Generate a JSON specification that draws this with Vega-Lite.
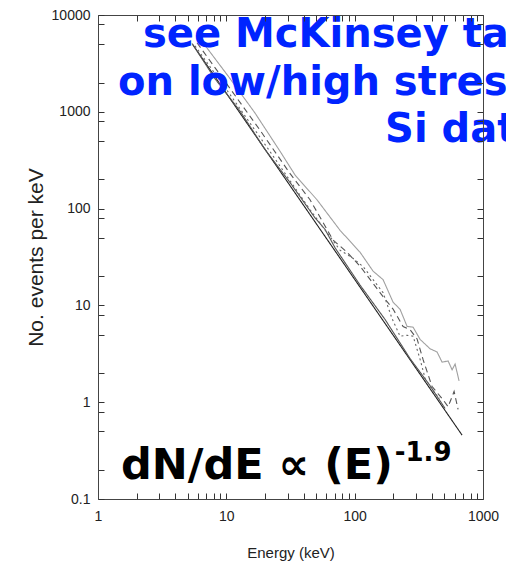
{
  "$schema": "https://vega.github.io/schema/vega-lite/v6.json",
  "width": 385,
  "height": 484,
  "autosize": {"type": "none"},
  "padding": {"left": 98, "top": 15, "right": 23, "bottom": 70},
  "background": "white",
  "config": {"view": {"stroke": null}},
  "datasets": {
    "spectra": [
      {"s": "fit", "E": 5.50, "N": 4907},
      {"s": "fit", "E": 687, "N": 0.457},
      {"s": "d1", "E": 5.40, "N": 5084},
      {"s": "d1", "E": 8.17, "N": 2189},
      {"s": "d1", "E": 12.79, "N": 1017},
      {"s": "d1", "E": 20.0, "N": 408.7},
      {"s": "d1", "E": 31.4, "N": 185.4},
      {"s": "d1", "E": 49.1, "N": 80.2},
      {"s": "d1", "E": 58.8, "N": 60.9},
      {"s": "d1", "E": 70.4, "N": 39.3},
      {"s": "d1", "E": 110.2, "N": 16.2},
      {"s": "d1", "E": 172.6, "N": 7.15},
      {"s": "d1", "E": 270.3, "N": 2.82},
      {"s": "d1", "E": 387, "N": 1.48},
      {"s": "d1", "E": 506.5, "N": 0.861},
      {"s": "d2", "E": 5.91, "N": 5169},
      {"s": "d2", "E": 10.7, "N": 1735},
      {"s": "d2", "E": 18.3, "N": 646},
      {"s": "d2", "E": 31.4, "N": 229.5},
      {"s": "d2", "E": 44.9, "N": 123.5},
      {"s": "d2", "E": 67.9, "N": 47.3},
      {"s": "d2", "E": 87.3, "N": 35.4},
      {"s": "d2", "E": 110.2, "N": 25.4},
      {"s": "d2", "E": 166.5, "N": 12.3},
      {"s": "d2", "E": 199.2, "N": 9.16},
      {"s": "d2", "E": 238.4, "N": 6.04},
      {"s": "d2", "E": 270.3, "N": 5.60},
      {"s": "d2", "E": 306.4, "N": 4.50},
      {"s": "d2", "E": 341.4, "N": 2.75},
      {"s": "d2", "E": 401.2, "N": 1.45},
      {"s": "d2", "E": 488.7, "N": 1.06},
      {"s": "d2", "E": 534.6, "N": 0.897},
      {"s": "d2", "E": 595.3, "N": 1.29},
      {"s": "d2", "E": 639.5, "N": 0.843},
      {"s": "d3", "E": 5.70, "N": 4801},
      {"s": "d3", "E": 10.7, "N": 1504},
      {"s": "d3", "E": 21.9, "N": 387.9},
      {"s": "d3", "E": 44.9, "N": 97.4},
      {"s": "d3", "E": 76.9, "N": 37.2},
      {"s": "d3", "E": 95.4, "N": 31.2},
      {"s": "d3", "E": 116.3, "N": 25.2},
      {"s": "d3", "E": 166.5, "N": 13.55},
      {"s": "d3", "E": 195.6, "N": 7.31},
      {"s": "d3", "E": 225.9, "N": 4.80},
      {"s": "d3", "E": 256.1, "N": 4.91},
      {"s": "d3", "E": 285.3, "N": 4.81},
      {"s": "d3", "E": 323.3, "N": 2.78},
      {"s": "d3", "E": 353.9, "N": 1.76},
      {"s": "d3", "E": 423.3, "N": 1.22},
      {"s": "d3", "E": 463.1, "N": 1.10},
      {"s": "d4", "E": 6.82, "N": 4860},
      {"s": "d4", "E": 10.7, "N": 2199},
      {"s": "d4", "E": 16.7, "N": 974},
      {"s": "d4", "E": 26.2, "N": 391.5},
      {"s": "d4", "E": 34.3, "N": 222.6},
      {"s": "d4", "E": 50.9, "N": 123.2},
      {"s": "d4", "E": 76.9, "N": 59.7},
      {"s": "d4", "E": 110.2, "N": 35.4},
      {"s": "d4", "E": 139.1, "N": 22.6},
      {"s": "d4", "E": 166.5, "N": 18.45},
      {"s": "d4", "E": 199.2, "N": 10.8},
      {"s": "d4", "E": 225.9, "N": 9.11},
      {"s": "d4", "E": 256.1, "N": 6.07},
      {"s": "d4", "E": 285.3, "N": 5.96},
      {"s": "d4", "E": 323.3, "N": 4.46},
      {"s": "d4", "E": 387, "N": 3.56},
      {"s": "d4", "E": 438.7, "N": 3.30},
      {"s": "d4", "E": 480, "N": 2.59},
      {"s": "d4", "E": 534.6, "N": 2.67},
      {"s": "d4", "E": 574.4, "N": 2.16},
      {"s": "d4", "E": 606.1, "N": 2.48},
      {"s": "d4", "E": 651, "N": 1.66}
    ]
  },
  "layer": [
    {
      "data": {"name": "spectra"},
      "mark": {"type": "line", "strokeWidth": 1.1, "clip": true},
      "encoding": {
        "x": {
          "field": "E", "type": "quantitative",
          "scale": {"type": "log", "domain": [1, 1000], "nice": false},
          "axis": {
            "orient": "bottom", "zindex": 1,
            "values": [1,2,3,4,5,6,7,8,9,10,20,30,40,50,60,70,80,90,100,200,300,400,500,600,700,800,900,1000],
            "labelExpr": "(datum.value==1||datum.value==10||datum.value==100||datum.value==1000) ? ('' + datum.value) : ''",
            "ticks": true, "tickSize": -6, "tickWidth": 1,
            "tickColor": "#333", "domainColor": "#444", "grid": false,
            "labelFont": "Liberation Sans", "labelFontSize": 14, "labelColor": "#222",
            "labelPadding": 16, "labelOverlap": false, "labelFlush": false,
            "title": "Energy (keV)", "titleFont": "Liberation Sans", "titleFontSize": 15,
            "titleFontWeight": "normal", "titleColor": "#222", "titlePadding": 22
          }
        },
        "y": {
          "field": "N", "type": "quantitative",
          "scale": {"type": "log", "domain": [0.1, 10000], "nice": false},
          "axis": {
            "orient": "left", "zindex": 1,
            "values": [0.1,0.2,0.5,0.8,1,2,5,8,10,20,50,80,100,200,500,800,1000,2000,5000,8000,10000],
            "labelExpr": "(datum.value==0.1||datum.value==1||datum.value==10||datum.value==100||datum.value==1000||datum.value==10000) ? ('' + datum.value) : ''",
            "ticks": true, "tickSize": -6, "tickWidth": 1,
            "tickColor": "#333", "domainColor": "#444", "grid": false,
            "labelFont": "Liberation Sans", "labelFontSize": 14, "labelColor": "#222",
            "labelPadding": 14, "labelOverlap": false, "labelFlush": false,
            "title": "No. events per keV", "titleFont": "Liberation Sans", "titleFontSize": 21,
            "titleFontWeight": "normal", "titleColor": "#222", "titlePadding": 5
          }
        },
        "color": {
          "field": "s", "type": "nominal", "legend": null,
          "scale": {"domain": ["fit","d1","d2","d3","d4"], "range": ["#222222","#555555","#555555","#666666","#a0a0a0"]}
        },
        "strokeDash": {
          "field": "s", "type": "nominal", "legend": null,
          "scale": {"domain": ["fit","d1","d2","d3","d4"], "range": [[1,0],[1,0],[6,4],[2,3],[1,0]]}
        }
      }
    },
    {
      "data": {"name": "spectra"},
      "mark": {"type": "point", "opacity": 0},
      "encoding": {
        "x": {
          "field": "E", "type": "quantitative",
          "scale": {"type": "log", "domain": [1, 1000], "nice": false},
          "axis": {
            "orient": "top", "labels": false, "title": null, "zindex": 1,
            "values": [1,2,3,4,5,6,7,8,9,10,20,30,40,50,60,70,80,90,100,200,300,400,500,600,700,800,900,1000],
            "ticks": true, "tickSize": -6, "tickWidth": 1,
            "tickColor": "#333", "domainColor": "#444", "grid": false
          }
        },
        "y": {
          "field": "N", "type": "quantitative",
          "scale": {"type": "log", "domain": [0.1, 10000], "nice": false},
          "axis": {
            "orient": "right", "labels": false, "title": null, "zindex": 1,
            "values": [0.1,0.2,0.5,0.8,1,2,5,8,10,20,50,80,100,200,500,800,1000,2000,5000,8000,10000],
            "ticks": true, "tickSize": -6, "tickWidth": 1,
            "tickColor": "#333", "domainColor": "#444", "grid": false
          }
        }
      }
    },
    {
      "data": {"values": [{}]},
      "mark": {"type": "text", "font": "DejaVu Sans", "fontWeight": "bold", "fontSize": 40, "color": "#0024ff", "align": "left", "baseline": "alphabetic", "clip": false},
      "encoding": {
        "x": {"datum": 2.243, "type": "quantitative", "scale": {"type": "log", "domain": [1, 1000], "nice": false}, "axis": null},
        "y": {"datum": 4678, "type": "quantitative", "scale": {"type": "log", "domain": [0.1, 10000], "nice": false}, "axis": null},
        "text": {"value": "see McKinsey talk"}
      }
    },
    {
      "data": {"values": [{}]},
      "mark": {"type": "text", "font": "DejaVu Sans", "fontWeight": "bold", "fontSize": 40, "color": "#0024ff", "align": "left", "baseline": "alphabetic", "clip": false},
      "encoding": {
        "x": {"datum": 1.432, "type": "quantitative", "scale": {"type": "log", "domain": [1, 1000], "nice": false}, "axis": null},
        "y": {"datum": 1497, "type": "quantitative", "scale": {"type": "log", "domain": [0.1, 10000], "nice": false}, "axis": null},
        "text": {"value": "on low/high stress"}
      }
    },
    {
      "data": {"values": [{}]},
      "mark": {"type": "text", "font": "DejaVu Sans", "fontWeight": "bold", "fontSize": 40, "color": "#0024ff", "align": "left", "baseline": "alphabetic", "clip": false},
      "encoding": {
        "x": {"datum": 172.6, "type": "quantitative", "scale": {"type": "log", "domain": [1, 1000], "nice": false}, "axis": null},
        "y": {"datum": 490.6, "type": "quantitative", "scale": {"type": "log", "domain": [0.1, 10000], "nice": false}, "axis": null},
        "text": {"value": "Si data"}
      }
    },
    {
      "data": {"values": [{}]},
      "mark": {"type": "text", "font": "DejaVu Sans", "fontWeight": "bold", "fontSize": 43, "color": "#000000", "align": "left", "baseline": "alphabetic", "clip": false},
      "encoding": {
        "x": {"datum": 1.511, "type": "quantitative", "scale": {"type": "log", "domain": [1, 1000], "nice": false}, "axis": null},
        "y": {"datum": 0.161, "type": "quantitative", "scale": {"type": "log", "domain": [0.1, 10000], "nice": false}, "axis": null},
        "text": {"value": "dN/dE ∝ (E)"}
      }
    },
    {
      "data": {"values": [{}]},
      "mark": {"type": "text", "font": "DejaVu Sans", "fontWeight": "bold", "fontSize": 26, "color": "#000000", "align": "left", "baseline": "alphabetic", "clip": false},
      "encoding": {
        "x": {"datum": 205, "type": "quantitative", "scale": {"type": "log", "domain": [1, 1000], "nice": false}, "axis": null},
        "y": {"datum": 0.2466, "type": "quantitative", "scale": {"type": "log", "domain": [0.1, 10000], "nice": false}, "axis": null},
        "text": {"value": "-1.9"}
      }
    }
  ],
  "resolve": {"axis": {"x": "independent", "y": "independent"}}
}
